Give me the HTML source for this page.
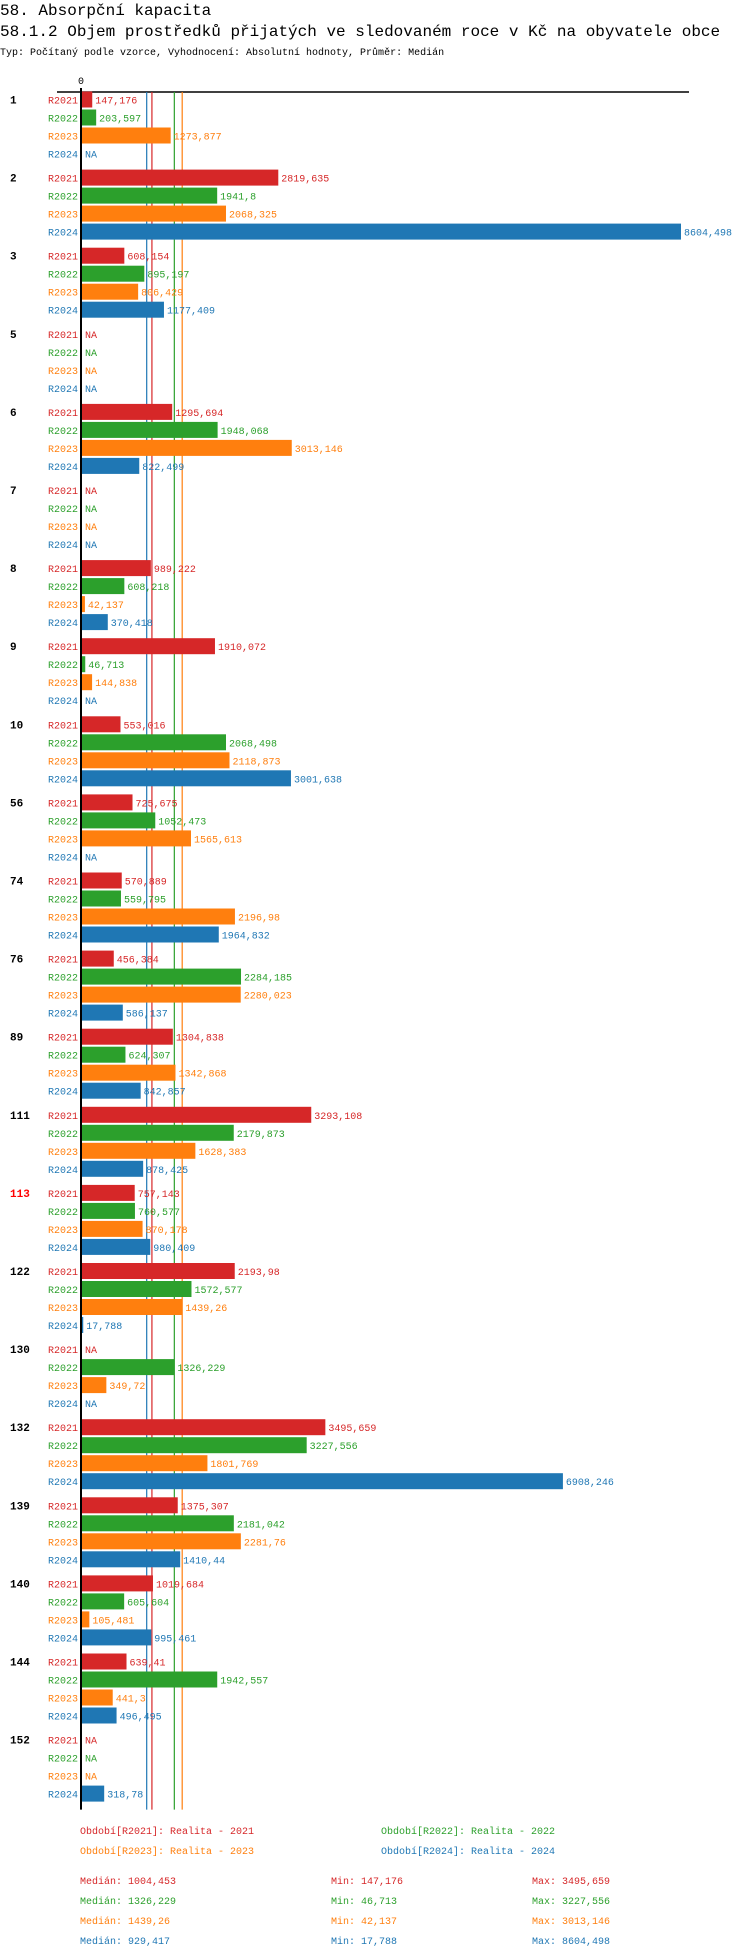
<!DOCTYPE html>
<html><head><meta charset="utf-8">
<style>
body{margin:0;background:#fff;width:750px;height:1958px;overflow:hidden;font-family:"Liberation Mono",monospace;}
svg{display:block}
</style></head>
<body>
<svg id="chart" width="750" height="1958" xmlns="http://www.w3.org/2000/svg" font-family="Liberation Mono, monospace">
<text x="0" y="15" font-size="16">58. Absorpční kapacita</text>
<text x="0" y="36" font-size="16">58.1.2 Objem prostředků přijatých ve sledovaném roce v Kč na obyvatele obce</text>
<text x="0" y="55" font-size="10">Typ: Počítaný podle vzorce, Vyhodnocení: Absolutní hodnoty, Průměr: Medián</text>
<g id="plot"></g>
</svg>
<script>
const groups = ["1","2","3","5","6","7","8","9","10","56","74","76","89","111","113","122","130","132","139","140","144","152"];
const seriesNames = ["R2021","R2022","R2023","R2024"];
const r2021 = [147.176,2819.635,608.154,null,1295.694,null,989.222,1910.072,553.016,725.675,570.889,456.384,1304.838,3293.108,757.143,2193.98,null,3495.659,1375.307,1019.684,639.41,null];
const r2022 = [203.597,1941.8,895.197,null,1948.068,null,608.218,46.713,2068.498,1052.473,559.795,2284.185,624.307,2179.873,760.577,1572.577,1326.229,3227.556,2181.042,605.604,1942.557,null];
const r2023 = [1273.877,2068.325,806.429,null,3013.146,null,42.137,144.838,2118.873,1565.613,2196.98,2280.023,1342.868,1628.383,870.178,1439.26,349.72,1801.769,2281.76,105.481,441.3,null];
const r2024 = [null,8604.498,1177.409,null,822.499,null,370.418,null,3001.638,null,1964.832,586.137,842.857,878.425,980.409,17.788,null,6908.246,1410.44,995.461,496.495,318.78];
const medians = [1004.453,1326.229,1439.26,929.417];
const mins = [147.176,46.713,42.137,17.788];
const maxs = [3495.659,3227.556,3013.146,8604.498];
const legendLabels = ["Období[R2021]: Realita - 2021","Období[R2022]: Realita - 2022","Období[R2023]: Realita - 2023","Období[R2024]: Realita - 2024"];
const highlighted = ["113"];

const colors = ["#d62728","#2ca02c","#ff7f0e","#1f77b4"];
const data = [r2021,r2022,r2023,r2024];
const NS = "http://www.w3.org/2000/svg";
const plot = document.getElementById("plot");
const x0 = 82, xMaxPx = 681, domainMax = 8604.498;
const x = v => x0 + v * (xMaxPx - x0) / domainMax;
const rowStep = 18, groupStep = 78.1, firstY = 99.5;
const yRow = (g, s) => firstY + g * groupStep + s * rowStep;
const fmt = v => String(v).replace(".", ",");
function el(tag, attrs, text){
  const e = document.createElementNS(NS, tag);
  for (const k in attrs) e.setAttribute(k, attrs[k]);
  if (text !== undefined) e.textContent = text;
  plot.appendChild(e);
  return e;
}
// axis
let t = el("line",{x1:x0-25,y1:92,x2:689,y2:92,stroke:"#000","stroke-width":1.5});


t = el("text",{x:x0-1,y:84,"font-size":10,"text-anchor":"middle"},"0");


const yEnd = yRow(groups.length-1,3) + 16;
// median lines
medians.forEach((m,i)=>{
  const l = el("line",{x1:x(m),y1:92,x2:x(m),y2:yEnd,stroke:colors[i],"stroke-width":1.2});
  
  
});
groups.forEach((g,gi)=>{
  const gl = el("text",{x:10,y:yRow(gi,0)+4,"font-size":11,"font-weight":"bold",fill:highlighted.includes(g)?"#ff0000":"#000"},g);
  
  
  data.forEach((arr,si)=>{
    const cy = yRow(gi,si);
    const sl = el("text",{x:78,y:cy+4,"font-size":10,"text-anchor":"end",fill:colors[si]},seriesNames[si]);
    
    
    const v = arr[gi];
    if (v === null){
      const na = el("text",{x:x0+3,y:cy+4,"font-size":10,fill:colors[si]},"NA");
      
      
    } else {
      const b = el("rect",{x:x0,y:cy-8,width:Math.max(x(v)-x0,0.5),height:16,fill:colors[si]});
      
      
      const vl = el("text",{x:x(v)+3,y:cy+4,"font-size":10,fill:colors[si]},fmt(v));
      
      
    }
  });
});
t = el("line",{x1:81,y1:88,x2:81,y2:yEnd,stroke:"#000","stroke-width":2});


// legend
legendLabels.forEach((lab,i)=>{
  const lx = i%2===0 ? 80 : 381;
  const ly = i<2 ? 1834 : 1854;
  const le = el("text",{x:lx,y:ly,"font-size":10,fill:colors[i]},lab);
  
  
});
seriesNames.forEach((s,i)=>{
  const ly = 1884 + i*20;
  let a = el("text",{x:80,y:ly,"font-size":10,fill:colors[i]},"Medián: "+fmt(medians[i]));
  
  
  a = el("text",{x:331,y:ly,"font-size":10,fill:colors[i]},"Min: "+fmt(mins[i]));
  
  
  a = el("text",{x:532,y:ly,"font-size":10,fill:colors[i]},"Max: "+fmt(maxs[i]));
  
  
});
</script>
</body></html>
